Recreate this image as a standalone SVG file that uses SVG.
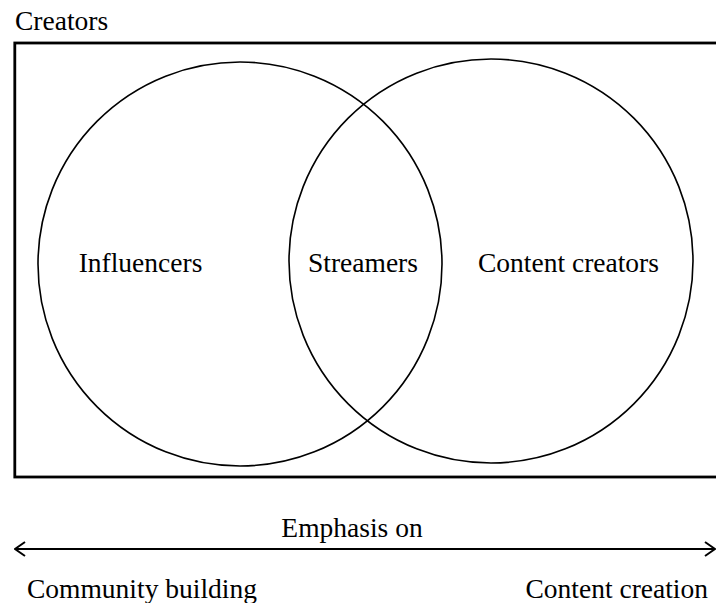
<svg xmlns="http://www.w3.org/2000/svg" width="716" height="603" viewBox="0 0 716 603">
  <style>
    text { font-family: "Liberation Serif", "Times New Roman", serif; font-size: 27.5px; fill: #000; }
    .frame { fill: none; stroke: #000; stroke-width: 2.8; }
    .set { fill: none; stroke: #000; stroke-width: 1.6; }
    .axis { fill: none; stroke: #000; stroke-width: 2; }
  </style>
  <defs>
    <!-- open chevron used at both ends of the emphasis axis -->
    <marker id="chevron" viewBox="0 0 12 16" refX="11" refY="8" markerWidth="12" markerHeight="16" markerUnits="userSpaceOnUse" orient="auto-start-reverse">
      <path d="M1,1 L11,8 L1,15" fill="none" stroke="#000" stroke-width="2"/>
    </marker>
  </defs>

  <!-- outer set: all creators -->
  <g id="creators">
    <text x="15" y="30">Creators</text>
    <rect class="frame" x="14.8" y="43" width="720" height="434"/>
  </g>

  <g id="influencers">
    <circle class="set" cx="240" cy="264" r="202"/>
    <text x="140.5" y="272" text-anchor="middle">Influencers</text>
  </g>

  <g id="content-creators">
    <circle class="set" cx="491" cy="261" r="202"/>
    <text x="568.5" y="272" text-anchor="middle">Content creators</text>
  </g>

  <!-- overlap of the two circles -->
  <g id="streamers">
    <text x="363" y="272" text-anchor="middle">Streamers</text>
  </g>

  <g id="connectors">
    <line class="axis" x1="15" y1="549" x2="715" y2="549" marker-start="url(#chevron)" marker-end="url(#chevron)"/>
  </g>

  <g id="emphasis">
    <text x="352" y="537" text-anchor="middle">Emphasis on</text>
    <text x="27" y="598">Community building</text>
    <text x="708" y="598" text-anchor="end">Content creation</text>
  </g>
</svg>
